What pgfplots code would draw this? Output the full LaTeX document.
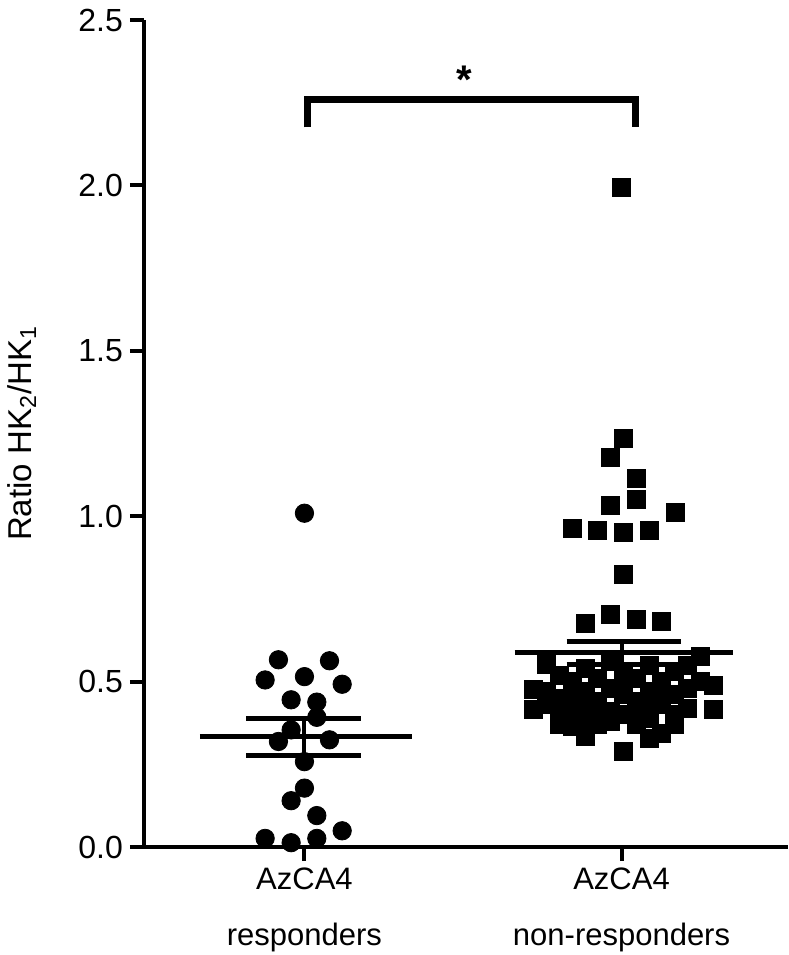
\documentclass[border=0pt]{standalone}
\usepackage{fontspec}
\setmainfont{Liberation Sans}
\usepackage{pgfplots}
\pgfplotsset{compat=1.18}

\begin{document}
\begin{tikzpicture}
\begin{axis}[
  name=ax,
  scale only axis,
  width=322pt, height=413.5pt,
  xmin=-0.506, xmax=1.525,
  ymin=0, ymax=2.5,
  axis x line*=bottom, axis y line*=left,
  axis line style={line width=2pt, -},
  xtick={0,1},
  xticklabels={{AzCA4\\responders},{AzCA4\\non-responders}},
  ytick={0,0.5,1,1.5,2,2.5},
  tick align=outside,
  major tick length=7pt,
  tick style={line width=2pt, black},
  /pgf/number format/assume math mode=true,
  yticklabel style={/pgf/number format/fixed, /pgf/number format/fixed zerofill, /pgf/number format/precision=1},
  x tick label style={align=center, font=\fontsize{15.5}{28}\selectfont},
  y tick label style={font=\fontsize{16}{18}\selectfont},
  ylabel={Ratio HK\textsubscript{2}/HK\textsubscript{1}},
  ylabel style={at={(axis description cs:-0.19,0.5)}, anchor=center, font=\fontsize{16.5}{18}\selectfont},
  clip=false,
]
% responders
\addplot[only marks, mark=*, mark size=4.6pt, black] coordinates {
(0,1.009) (-0.082,0.566) (0.079,0.563) (-0.124,0.505) (0,0.515)
(0.119,0.492) (-0.042,0.445) (0.039,0.438) (0.039,0.392) (-0.042,0.354)
(-0.082,0.319) (0.079,0.324) (0,0.258) (0,0.178) (-0.042,0.140)
(0.039,0.095) (0.119,0.049) (-0.124,0.026) (-0.042,0.013) (0.039,0.026)
};
% non-responders
\addplot[only marks, mark=square*, mark size=4.5pt, black] coordinates {
(1.0,1.993)
(1.006,1.236) (0.966,1.179) (1.047,1.115) (0.966,1.034) (1.047,1.050)
(1.169,1.012) (0.846,0.962) (0.925,0.957) (1.006,0.952) (1.087,0.957)
(1.006,0.825) (0.966,0.704) (1.047,0.687) (0.886,0.677) (1.127,0.682)
(0.723,0.477) (0.723,0.417)
(0.764,0.553) (0.764,0.47) (0.764,0.43)
(0.805,0.52) (0.805,0.45) (0.805,0.40) (0.805,0.37)
(0.846,0.50) (0.846,0.42) (0.846,0.364) (0.846,0.46)
(0.887,0.54) (0.887,0.47) (0.887,0.39) (0.887,0.334) (0.887,0.43)
(0.925,0.51) (0.925,0.44) (0.925,0.37) (0.925,0.41)
(0.966,0.56) (0.966,0.48) (0.966,0.41) (0.966,0.38)
(1.006,0.53) (1.006,0.46) (1.006,0.40) (1.006,0.288) (1.006,0.50)
(1.047,0.51) (1.047,0.44) (1.047,0.37) (1.047,0.40)
(1.087,0.55) (1.087,0.47) (1.087,0.39) (1.087,0.329) (1.087,0.43)
(1.127,0.50) (1.127,0.43) (1.127,0.344) (1.127,0.46)
(1.167,0.53) (1.167,0.46) (1.167,0.40) (1.167,0.37)
(1.208,0.55) (1.208,0.48) (1.208,0.42)
(1.248,0.576) (1.248,0.50)
(1.289,0.49) (1.289,0.417)
};
% mean and SEM, responders
\addplot[black, line width=2.5pt] coordinates {(-0.33,0.334) (0.34,0.334)};
\addplot[black, line width=2.5pt] coordinates {(-0.183,0.389) (0.179,0.389)};
\addplot[black, line width=2.5pt] coordinates {(-0.183,0.278) (0.179,0.278)};
\addplot[black, line width=2pt] coordinates {(0,0.278) (0,0.389)};
% mean and SEM, non-responders
\addplot[black, line width=2.5pt] coordinates {(0.663,0.587) (1.352,0.587)};
\addplot[black, line width=2.5pt] coordinates {(0.827,0.622) (1.186,0.622)};
\addplot[black, line width=2.5pt] coordinates {(0.827,0.552) (1.186,0.552)};
\addplot[black, line width=2pt] coordinates {(1.0,0.552) (1.0,0.622)};
% significance bracket
\addplot[black, line width=3.5pt, line join=miter] coordinates {(0.01,2.175) (0.01,2.26) (1.044,2.26) (1.044,2.175)};
\node[font=\fontsize{20}{20}\selectfont\bfseries] at (axis cs:0.503,2.32) {*};
\end{axis}
\pgfresetboundingbox
\path[use as bounding box] ([xshift=-72pt,yshift=-54pt]ax.south west) rectangle ([yshift=10pt]ax.north east);
\end{tikzpicture}
\end{document}
